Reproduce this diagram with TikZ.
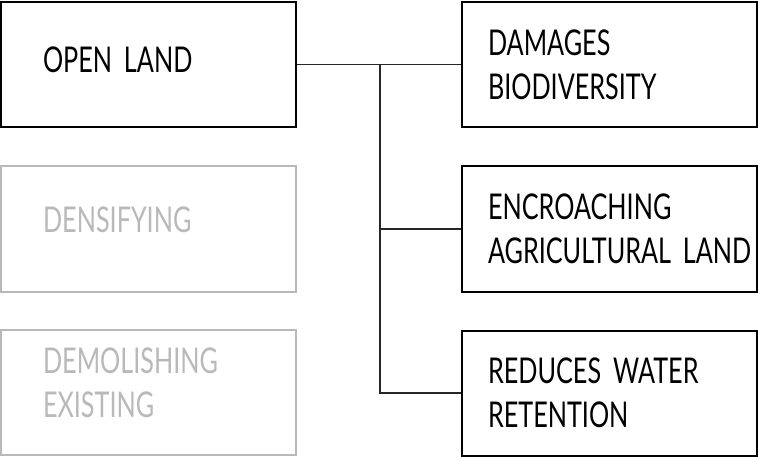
\documentclass[tikz,border=0pt]{standalone}
\usepackage{fontspec}
\setmainfont[FakeStretch=0.71]{Lato}
\usepackage{tikz}
\usetikzlibrary{positioning}
\usepackage{xcolor}
\definecolor{fadegray}{RGB}{185,185,185}
\newcommand{\boxfont}{\fontsize{35.5}{44}\selectfont\fontdimen2\font=5pt\relax}

\begin{document}
\begin{tikzpicture}[x=1pt,y=1pt,
  box/.style={draw,line width=2pt,rectangle,minimum height=125pt,align=left,
    font=\boxfont},
  leftbox/.style={box,inner xsep=42pt,text width=211pt},
  rightbox/.style={box,inner xsep=26pt,text width=243pt},
  faded/.style={draw=fadegray,text=fadegray},
  link/.style={line width=1.2pt,draw=black!85}]
\useasboundingbox (0,0) rectangle (758,-457);
% left column
\node[leftbox,text depth=10pt] (ol) at (148.5,-64.5) {OPEN LAND};
\node[leftbox,faded,text depth=18pt] (dn) at (148.5,-229) {DENSIFYING};
\node[leftbox,faded,text depth=63pt] (dm) at (148.5,-392.5) {DEMOLISHING\\EXISTING};
% right column
\node[rightbox] (db) at (609.5,-64.5) {DAMAGES\\BIODIVERSITY};
\node[rightbox] (en) at (609.5,-229) {ENCROACHING\\\mbox{AGRICULTURAL LAND}};
\node[rightbox] (rw) at (609.5,-393) {REDUCES WATER\\RETENTION};
% connectors
\coordinate (tr) at (380,-64.5);
\draw[link] (ol.east) -- (db.west);
\draw[link] (tr) |- (en.west);
\draw[link] (tr) |- (rw.west);
\end{tikzpicture}
\end{document}
